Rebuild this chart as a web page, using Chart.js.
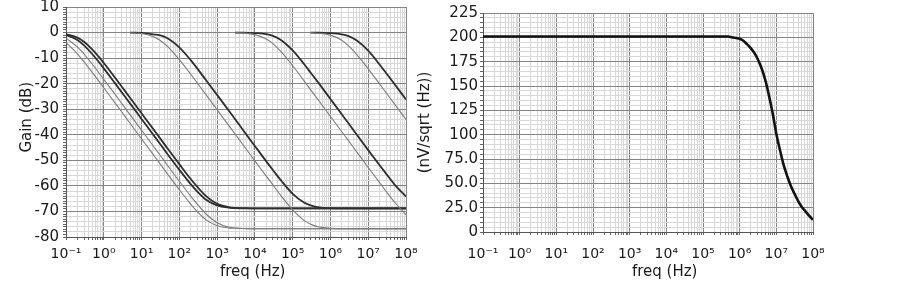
<!DOCTYPE html>
<html><head><meta charset="utf-8">
<script src="https://cdn.jsdelivr.net/npm/chart.js@4.4.1/dist/chart.umd.min.js"></script>
<style>
html,body{margin:0;padding:0;background:#fff;width:903px;height:285px;overflow:hidden}
canvas{position:absolute;top:0}
#cL{left:0}
#cR{left:410px}
</style></head><body>
<canvas id="cL" width="440" height="285"></canvas>
<canvas id="cR" width="493" height="285"></canvas>
<script>
// ---- data ----
const freq = [0.1,0.2,0.3,0.5,1,2,3,5,10,20,30,50,100,200,300,500,1e3,2e3,3e3,5e3,1e4,2e4,3e4,5e4,1e5,2e5,3e5,5e5,1e6,2e6,3e6,5e6,1e7,2e7,3e7,5e7,1e8];
const _ = null;
const gainA1 = [-0.6,-2.0,-3.6,-6.7,-11.9,-17.7,-21.2,-25.6,-31.6,-37.6,-41.1,-45.6,-51.5,-57.3,-60.4,-63.9,-67.0,-68.3,-68.6,-68.7,-68.8,-68.8,-68.8,-68.8,-68.8,-68.8,-68.8,-68.8,-68.8,-68.8,-68.8,-68.8,-68.8,-68.8,-68.8,-68.8,-68.8];
const gainA2 = [-0.9,-2.9,-5.0,-8.5,-14.0,-19.9,-23.4,-27.8,-33.8,-39.8,-43.3,-47.8,-53.7,-59.3,-62.2,-65.3,-67.6,-68.5,-68.7,-68.8,-68.8,-68.8,-68.8,-68.8,-68.8,-68.8,-68.8,-68.8,-68.8,-68.8,-68.8,-68.8,-68.8,-68.8,-68.8,-68.8,-68.8];
const gainA3 = [-2.2,-5.6,-8.4,-12.4,-18.3,-24.2,-27.8,-32.2,-38.2,-44.2,-47.7,-52.2,-58.2,-64.0,-67.2,-70.9,-74.4,-76.1,-76.5,-76.7,-76.8,-76.8,-76.8,-76.8,-76.8,-76.8,-76.8,-76.8,-76.8,-76.8,-76.8,-76.8,-76.8,-76.8,-76.8,-76.8,-76.8];
const gainA4 = [-3.9,-8.3,-11.5,-15.7,-21.6,-27.6,-31.1,-35.6,-41.6,-47.6,-51.1,-55.6,-61.5,-67.1,-70.1,-73.2,-75.6,-76.5,-76.6,-76.7,-76.8,-76.8,-76.8,-76.8,-76.8,-76.8,-76.8,-76.8,-76.8,-76.8,-76.8,-76.8,-76.8,-76.8,-76.8,-76.8,-76.8];
const gainB1 = [_,_,_,_,_,_,_,0,-0.1,-0.7,-1.0,-2.3,-5.8,-10.8,-14.1,-18.5,-24.4,-30.4,-33.9,-38.4,-44.4,-50.4,-53.8,-58.0,-63.1,-66.5,-67.6,-68.4,-68.7,-68.8,-68.8,-68.8,-68.8,-68.8,-68.8,-68.8,-68.8];
const gainB2 = [_,_,_,_,_,_,_,-0.1,-0.4,-1.5,-2.9,-5.6,-10.6,-16.3,-19.8,-24.2,-30.2,-36.2,-39.7,-44.2,-50.2,-56.2,-59.6,-64.0,-69.4,-73.5,-75.0,-76.1,-76.6,-76.8,-76.8,-76.8,-76.8,-76.8,-76.8,-76.8,-76.8];
const gainC1 = [_,_,_,_,_,_,_,_,_,_,_,_,_,_,_,_,_,_,0,0,-0.2,-0.6,-1.3,-3.0,-7.0,-12.3,-15.7,-20.0,-26.0,-32.0,-35.5,-40.0,-46.0,-51.9,-55.3,-59.5,-64.2];
const gainC2 = [_,_,_,_,_,_,_,_,_,_,_,_,_,_,_,_,_,_,-0.1,-0.2,-0.8,-2.5,-4.3,-7.6,-13.0,-18.9,-22.4,-26.8,-32.8,-38.8,-42.3,-46.8,-52.8,-58.7,-62.2,-66.4,-71.3];
const gainD1 = [_,_,_,_,_,_,_,_,_,_,_,_,_,_,_,_,_,_,_,_,_,_,_,_,_,_,0,0,-0.2,-0.7,-1.4,-3.1,-7.1,-12.5,-15.9,-20.2,-26.2];
const gainD2 = [_,_,_,_,_,_,_,_,_,_,_,_,_,_,_,_,_,_,_,_,_,_,_,_,_,_,-0.1,-0.3,-1.0,-3.0,-5.2,-8.6,-14.2,-20.1,-23.6,-28.0,-34.0];

const noiseFreq  = [0.1,5e5,6e5,1e6,1.26e6,1.58e6,2e6,2.51e6,3.16e6,3.98e6,5.01e6,6.31e6,7.94e6,1e7,1.26e7,1.58e7,2e7,2.51e7,3.16e7,3.98e7,5.01e7,6.31e7,7.94e7,1e8];
const noiseLevel = [200.8,200.8,200.1,198.5,196.5,193,189,184,177,168,156,140,122,101,84,69,57,47,39,31.5,25.5,21,16.5,12.5];

const freqTickLabels  = ['10\u207B\u00B9','10\u2070','10\u00B9','10\u00B2','10\u00B3','10\u2074','10\u2075','10\u2076','10\u2077','10\u2078'];
const gainTickLabels  = ['-80','-70','-60','-50','-40','-30','-20','-10','0','10'];
const noiseTickLabels = ['0','25.0','50.0','75.0','100','125','150','175','200','225'];

// ---- helpers ----
function pts(xs, ys){ const o=[]; for(let i=0;i<xs.length;i++){ if(ys[i]!==null) o.push({x:xs[i], y:ys[i]}); } return o; }
function logTicks(){ const t=[]; for(let e=-1;e<=8;e++){ for(let m=1;m<=9;m++){ if(e===8&&m>1)break; t.push({value:m*Math.pow(10,e), major:m===1, exp:e}); } } return t; }

Chart.defaults.font.family = '"DejaVu Sans", sans-serif';
Chart.defaults.color = '#1a1a1a';
Chart.defaults.animation = false;

const MAJOR = '#848484', MINOR = '#d8d8d8';

function xAxis(height, labPad, titlePadB){
  return {
    type:'logarithmic', min:0.1, max:1e8,
    afterBuildTicks: s => { s.ticks = logTicks(); },
    afterFit: s => { s.height = height; s.paddingLeft = 0; s.paddingRight = 0; },
    ticks:{ autoSkip:false, maxRotation:0, minRotation:0, padding:labPad, font:{size:14},
      callback:(v,i,t)=> t[i].major ? freqTickLabels[t[i].exp+1] : '' },
    grid:{ color: c => (c.tick && c.tick.major) ? MAJOR : MINOR, lineWidth:1, tickLength:3, tickColor:'#666' },
    border:{ color:'#555', width:1 },
    title:{ display:true, text:'       freq (Hz)', font:{size:15}, padding:{top:0,bottom:titlePadB} }
  };
}

// ---- left chart ----
const darkC = '#2e2e2e', lightC = '#7c7c7c';
function ds(data, dark){ return { data: pts(freq, data), borderColor: dark?darkC:lightC, borderWidth: dark?1.8:1.1, pointRadius:0, cubicInterpolationMode:'monotone', fill:false }; }

new Chart(document.getElementById('cL'), {
  type:'line',
  data:{ datasets:[
    ds(gainA3,false), ds(gainA4,false), ds(gainB2,false), ds(gainC2,false), ds(gainD2,false),
    ds(gainA1,true), ds(gainA2,true), ds(gainB1,true), ds(gainC1,true), ds(gainD1,true)
  ]},
  options:{
    responsive:false, devicePixelRatio:1,
    layout:{ padding:{left:0,right:34,top:7,bottom:0} },
    plugins:{ legend:{display:false}, tooltip:{enabled:false} },
    scales:{
      x: xAxis(48, 6, 4),
      y: { type:'linear', min:-80, max:10,
        afterBuildTicks: s => { const t=[]; for(let v=-80; v<=10; v++) t.push({value:v}); s.ticks=t; },
        afterFit: s => { s.width = 66; s.paddingTop = 0; s.paddingBottom = 0; },
        ticks:{ autoSkip:false, padding:4, font:{size:15},
          callback: v => (v%10===0) ? gainTickLabels[(v+80)/10] : '' },
        grid:{ color: c => { const v=c.tick?c.tick.value:0; return v%10===0 ? MAJOR : (v%2===0 ? MINOR : 'rgba(0,0,0,0)'); },
               lineWidth:1, tickLength:3, tickColor:'#666' },
        border:{ color:'#555', width:1 },
        title:{ display:true, text:'  Gain (dB)', font:{size:15}, padding:{top:18,bottom:0} }
      }
    }
  }
});

// ---- right chart ----
new Chart(document.getElementById('cR'), {
  type:'line',
  data:{ datasets:[{ data: pts(noiseFreq, noiseLevel), borderColor:'#111', borderWidth:2.6, pointRadius:0, cubicInterpolationMode:'monotone', fill:false }]},
  options:{
    responsive:false, devicePixelRatio:1,
    layout:{ padding:{left:0,right:90,top:13,bottom:0} },
    plugins:{ legend:{display:false}, tooltip:{enabled:false} },
    scales:{
      x: xAxis(53, 11, 4),
      y: { type:'linear', min:0, max:225,
        afterBuildTicks: s => { const t=[]; for(let v=0; v<=225; v+=5) t.push({value:v}); s.ticks=t; },
        afterFit: s => { s.width = 73; s.paddingTop = 0; s.paddingBottom = 0; },
        ticks:{ autoSkip:false, padding:2, font:{size:15},
          callback: v => (v%25===0) ? noiseTickLabels[v/25] : '' },
        grid:{ color: c => { const v=c.tick?c.tick.value:0; return v%25===0 ? MAJOR : MINOR; },
               lineWidth:1, tickLength:3, tickColor:'#666' },
        border:{ color:'#555', width:1 },
        title:{ display:true, text:'(nV/sqrt (Hz))', font:{size:15}, padding:{top:6,bottom:0} }
      }
    }
  }
});
</script>
</body></html>
